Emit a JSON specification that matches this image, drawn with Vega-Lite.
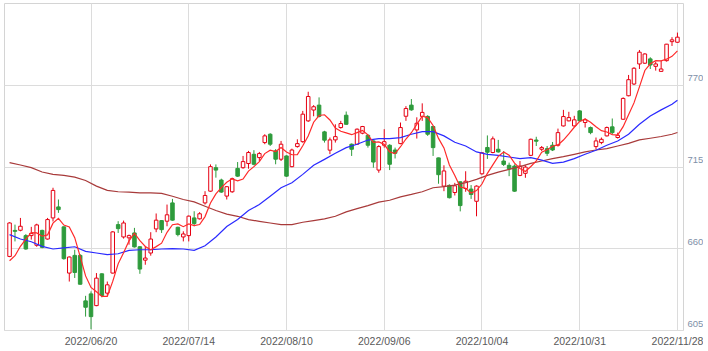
{
"$schema": "https://vega.github.io/schema/vega-lite/v6.json",
"width": 679, "height": 327,
"padding": {"left": 4, "top": 3, "right": 0, "bottom": 0},
"background": "white",
"config": {"view": {"stroke": "#d4d4d4", "strokeWidth": 1}},
"data": {"values": [
{"date":"2022/05/30","open":654.5,"high":677.5,"low":654,"close":677,"ma5":651.6,"ma25":669.2,"ma75":717.6},
{"date":"2022/05/31","open":672,"high":675.9,"low":664.6,"close":671.4,"ma5":655},
{"date":"2022/06/01","open":672.1,"high":680.4,"low":671.4,"close":674.8,"ma5":661.3,"ma25":666.2,"ma75":716},
{"date":"2022/06/02","open":668.5,"high":669.5,"low":659,"close":659.5,"ma5":666.2},
{"date":"2022/06/03","open":668.5,"high":674.4,"low":665.8,"close":670,"ma5":670.5,"ma25":664.4,"ma75":714.2},
{"date":"2022/06/06","open":662,"high":676.5,"low":661,"close":675.7,"ma5":670.3},
{"date":"2022/06/07","open":672,"high":672.5,"low":660,"close":660.6,"ma5":668.1,"ma25":661.3,"ma75":711.3},
{"date":"2022/06/08","open":666.2,"high":680.4,"low":665.8,"close":679.3,"ma5":669},
{"date":"2022/06/09","open":680.4,"high":700.7,"low":678,"close":698.9,"ma5":676.9,"ma25":659.5,"ma75":709.7},
{"date":"2022/06/10","open":687.8,"high":692.8,"low":683.8,"close":686,"ma5":680.1},
{"date":"2022/06/13","open":674.4,"high":674.8,"low":652.3,"close":653,"ma5":675.6,"ma25":660.2,"ma75":709},
{"date":"2022/06/14","open":643.3,"high":654.5,"low":637.6,"close":654.1,"ma5":674.3},
{"date":"2022/06/15","open":655.2,"high":659,"low":640,"close":643.7,"ma5":667.1,"ma25":661,"ma75":707.9},
{"date":"2022/06/16","open":655.2,"high":656,"low":635.5,"close":635.8,"ma5":654.5},
{"date":"2022/06/17","open":624.6,"high":628,"low":614,"close":620.3,"ma5":641.4,"ma25":657.9,"ma75":705.6},
{"date":"2022/06/20","open":629.3,"high":631,"low":605.5,"close":614,"ma5":633.6},
{"date":"2022/06/21","open":621.4,"high":643.3,"low":621,"close":639.9,"ma5":630.7,"ma25":656.8,"ma75":701.8},
{"date":"2022/06/22","open":642.8,"high":643.2,"low":627,"close":628.2,"ma5":627.6},
{"date":"2022/06/23","open":629.8,"high":637.6,"low":628,"close":635.4,"ma5":627.6,"ma25":655.7,"ma75":698.9},
{"date":"2022/06/24","open":643.3,"high":671.5,"low":643,"close":671,"ma5":637.7},
{"date":"2022/06/27","open":675.9,"high":678.2,"low":670.3,"close":673.2,"ma5":649.5,"ma25":656.3,"ma75":698},
{"date":"2022/06/28","open":667.6,"high":678.6,"low":666.5,"close":677,"ma5":657},
{"date":"2022/06/29","open":667,"high":669.2,"low":662.4,"close":668.5,"ma5":665,"ma25":658.6,"ma75":697.8},
{"date":"2022/06/30","open":670.3,"high":673.7,"low":660.5,"close":660.9,"ma5":670.1},
{"date":"2022/07/01","open":661,"high":661.5,"low":642.8,"close":646,"ma5":665.1,"ma25":659,"ma75":697.3},
{"date":"2022/07/04","open":652,"high":661.3,"low":648.9,"close":653.4,"ma5":661.2},
{"date":"2022/07/05","open":656.8,"high":670.8,"low":655,"close":666.2,"ma5":659,"ma25":659,"ma75":697.3},
{"date":"2022/07/06","open":673,"high":683.4,"low":670.8,"close":678.9,"ma5":661.1},
{"date":"2022/07/07","open":678.6,"high":679,"low":670.3,"close":672.5,"ma5":663.4,"ma25":659.5,"ma75":696.9},
{"date":"2022/07/08","open":678.2,"high":689.4,"low":674.8,"close":682.5,"ma5":670.7},
{"date":"2022/07/11","open":690.5,"high":693.2,"low":678.5,"close":678.9,"ma5":675.8,"ma25":659.7,"ma75":695},
{"date":"2022/07/12","open":674.1,"high":674.5,"low":668,"close":669.2,"ma5":676.4},
{"date":"2022/07/13","open":667.6,"high":671.4,"low":664.6,"close":669.6,"ma5":674.5,"ma25":659.5,"ma75":692.8},
{"date":"2022/07/14","open":668.5,"high":682,"low":664.6,"close":681.6,"ma5":676.4},
{"date":"2022/07/15","open":680.4,"high":684.9,"low":674.8,"close":676.6,"ma5":675.2,"ma25":658.6,"ma75":691.2},
{"date":"2022/07/19","open":679.8,"high":684.3,"low":679.3,"close":683.2,"ma5":676},
{"date":"2022/07/20","open":690.5,"high":698.4,"low":689.4,"close":695.5,"ma5":681.3,"ma25":661.7,"ma75":688.3},
{"date":"2022/07/21","open":698.4,"high":716.4,"low":698,"close":714.9,"ma5":690.4},
{"date":"2022/07/22","open":714.2,"high":716.4,"low":707.5,"close":712.6,"ma5":696.6,"ma25":667.6,"ma75":685.4},
{"date":"2022/07/25","open":705.9,"high":706.8,"low":697.3,"close":697.8,"ma5":700.8},
{"date":"2022/07/26","open":695.1,"high":701.8,"low":692.8,"close":701.4,"ma5":704.4,"ma25":674.6,"ma75":683},
{"date":"2022/07/27","open":698,"high":707.5,"low":697.3,"close":706.8,"ma5":706.7},
{"date":"2022/07/28","open":713.7,"high":718,"low":708,"close":708.5,"ma5":705.4,"ma25":679.3,"ma75":681.5},
{"date":"2022/07/29","open":714.2,"high":722.1,"low":713.5,"close":718.3,"ma5":706.6},
{"date":"2022/08/01","open":717,"high":725.5,"low":713.5,"close":724.4,"ma5":711.9,"ma25":685.4,"ma75":679.3},
{"date":"2022/08/02","open":723.2,"high":726,"low":715.8,"close":716.5,"ma5":714.9},
{"date":"2022/08/03","open":721,"high":724.8,"low":718.7,"close":723.7,"ma5":718.3,"ma25":689.4,"ma75":678.1},
{"date":"2022/08/04","open":731.1,"high":736.7,"low":730,"close":735.6,"ma5":723.7},
{"date":"2022/08/05","open":736.7,"high":737.4,"low":728.8,"close":730,"ma5":726,"ma25":695,"ma75":677},
{"date":"2022/08/08","open":725.5,"high":726.7,"low":716.5,"close":719.9,"ma5":725.1},
{"date":"2022/08/09","open":719.9,"high":732.2,"low":718.7,"close":730,"ma5":727.8,"ma25":700.7,"ma75":675.9},
{"date":"2022/08/10","open":722.1,"high":722.5,"low":708.1,"close":708.5,"ma5":724.8},
{"date":"2022/08/12","open":714.9,"high":727,"low":714.5,"close":726.1,"ma5":722.9,"ma25":704.1,"ma75":675.9},
{"date":"2022/08/15","open":728.4,"high":733.3,"low":727.7,"close":730.4,"ma5":723},
{"date":"2022/08/16","open":731.7,"high":752.4,"low":731,"close":750.2,"ma5":729,"ma25":709.7,"ma75":677.5},
{"date":"2022/08/17","open":745.7,"high":765.3,"low":745,"close":762.1,"ma5":735.5},
{"date":"2022/08/18","open":753,"high":756.3,"low":748.8,"close":755.2,"ma5":744.8,"ma25":715.8,"ma75":678.6},
{"date":"2022/08/19","open":756.3,"high":761.5,"low":748,"close":748.7,"ma5":749.3},
{"date":"2022/08/22","open":738.3,"high":739,"low":731.1,"close":732.7,"ma5":749.8,"ma25":719.8,"ma75":679.8},
{"date":"2022/08/23","open":726,"high":734.5,"low":723.3,"close":732.9,"ma5":746.3},
{"date":"2022/08/24","open":732.9,"high":743.4,"low":731.1,"close":735.1,"ma5":740.9,"ma25":723.9,"ma75":681.5},
{"date":"2022/08/25","open":741.2,"high":745.7,"low":740.5,"close":743.9,"ma5":738.7},
{"date":"2022/08/26","open":749.5,"high":752,"low":743,"close":743.4,"ma5":737.6,"ma25":727.7,"ma75":684.5},
{"date":"2022/08/29","open":730,"high":730.5,"low":722.1,"close":726.6,"ma5":736.4},
{"date":"2022/08/30","open":730,"high":740.6,"low":729.5,"close":740.1,"ma5":737.8,"ma25":730,"ma75":686.7},
{"date":"2022/08/31","open":737.4,"high":742.3,"low":736.7,"close":741.9,"ma5":739.2},
{"date":"2022/09/01","open":736,"high":736.5,"low":727.7,"close":729.3,"ma5":736.3,"ma25":732.8,"ma75":688.7},
{"date":"2022/09/02","open":732.2,"high":732.5,"low":714.2,"close":718,"ma5":731.2},
{"date":"2022/09/05","open":712.6,"high":729.3,"low":710.8,"close":728.4,"ma5":731.5,"ma25":733.8,"ma75":691},
{"date":"2022/09/06","open":729.3,"high":740.1,"low":727.7,"close":731.7,"ma5":729.9},
{"date":"2022/09/07","open":729.3,"high":730,"low":712.6,"close":716.5,"ma5":724.8,"ma25":733.8,"ma75":692.3},
{"date":"2022/09/08","open":726.1,"high":727.7,"low":720.4,"close":723.9,"ma5":723.7},
{"date":"2022/09/09","open":730.4,"high":744.6,"low":730,"close":741.2,"ma5":728.3,"ma25":734.4,"ma75":694.6},
{"date":"2022/09/12","open":748.8,"high":755.6,"low":745.7,"close":754,"ma5":733.5},
{"date":"2022/09/13","open":756.3,"high":760.4,"low":752.5,"close":753.1,"ma5":737.7,"ma25":736.7,"ma75":696.2},
{"date":"2022/09/14","open":739.6,"high":748.1,"low":733.8,"close":744.1,"ma5":743.3},
{"date":"2022/09/15","open":748.7,"high":757.5,"low":745.7,"close":751.4,"ma5":748.8,"ma25":738.5,"ma75":698},
{"date":"2022/09/16","open":748.7,"high":749.5,"low":735.6,"close":736.7,"ma5":747.9},
{"date":"2022/09/20","open":741.9,"high":742.3,"low":722.1,"close":727.7,"ma5":742.6,"ma25":738.5,"ma75":700.7},
{"date":"2022/09/21","open":720.8,"high":721,"low":703.4,"close":709.5,"ma5":733.9},
{"date":"2022/09/22","open":701.8,"high":715.8,"low":698.4,"close":712,"ma5":727.5,"ma25":735.6,"ma75":701.4},
{"date":"2022/09/26","open":702.3,"high":703,"low":693.5,"close":694,"ma5":716},
{"date":"2022/09/27","open":697.5,"high":704,"low":695.5,"close":702,"ma5":709,"ma25":731.3,"ma75":702.5},
{"date":"2022/09/28","open":704.7,"high":705,"low":684.8,"close":688.7,"ma5":701.2},
{"date":"2022/09/29","open":700.2,"high":711.8,"low":698,"close":705.1,"ma5":700.4,"ma25":728.8,"ma75":704.1},
{"date":"2022/09/30","open":699.8,"high":702.5,"low":693.2,"close":696.2,"ma5":697.2},
{"date":"2022/10/03","open":691.6,"high":702.3,"low":681.5,"close":701.8,"ma5":698.8,"ma25":724.8,"ma75":706.3},
{"date":"2022/10/04","open":710.1,"high":724.7,"low":709.5,"close":724.2,"ma5":703.2},
{"date":"2022/10/05","open":727.8,"high":735.9,"low":720.1,"close":724.6,"ma5":710.4,"ma25":723.2,"ma75":709},
{"date":"2022/10/06","open":724.4,"high":735.2,"low":723.9,"close":733.6,"ma5":716.1},
{"date":"2022/10/07","open":726.6,"high":732.9,"low":724.3,"close":724.8,"ma5":721.8,"ma25":722.5,"ma75":711.2},
{"date":"2022/10/11","open":718.7,"high":725.4,"low":715.3,"close":716.4,"ma5":724.7},
{"date":"2022/10/12","open":715.8,"high":717.6,"low":708.5,"close":713.5,"ma5":722.6,"ma25":721.4,"ma75":713.1},
{"date":"2022/10/13","open":715.3,"high":716.4,"low":698,"close":698.4,"ma5":717.3},
{"date":"2022/10/14","open":709,"high":718.7,"low":708.5,"close":715.3,"ma5":713.7,"ma25":720.3,"ma75":714.9},
{"date":"2022/10/17","open":710.4,"high":715.8,"low":707.4,"close":714.6,"ma5":711.6},
{"date":"2022/10/18","open":722.5,"high":733.8,"low":722,"close":733.3,"ma5":715,"ma25":721,"ma75":717.1},
{"date":"2022/10/19","open":732.8,"high":735,"low":728.8,"close":732,"ma5":718.7},
{"date":"2022/10/20","open":726.6,"high":728.8,"low":725.4,"close":727.7,"ma5":724.6,"ma25":719.3,"ma75":718.7},
{"date":"2022/10/21","open":727,"high":728.8,"low":722.1,"close":723.9,"ma5":726.3},
{"date":"2022/10/24","open":729.3,"high":731.5,"low":725.4,"close":726.1,"ma5":728.6,"ma25":717.1,"ma75":720.3},
{"date":"2022/10/25","open":729.3,"high":740.5,"low":728.4,"close":737.8,"ma5":729.5},
{"date":"2022/10/26","open":742.3,"high":753.1,"low":741.9,"close":748.6,"ma5":732.8,"ma25":718,"ma75":721.6},
{"date":"2022/10/27","open":745.7,"high":751.8,"low":745.4,"close":747.9,"ma5":736.9},
{"date":"2022/10/28","open":742.3,"high":749.1,"low":741.9,"close":746.4,"ma5":741.4,"ma25":720.3,"ma75":723.2},
{"date":"2022/10/31","open":752.4,"high":753,"low":745,"close":745.7,"ma5":745.3},
{"date":"2022/11/01","open":744.6,"high":747.3,"low":741.2,"close":746.4,"ma5":747,"ma25":723.2,"ma75":724.8},
{"date":"2022/11/02","open":741.2,"high":741.9,"low":736.7,"close":737.8,"ma5":744.8},
{"date":"2022/11/04","open":728.4,"high":734.5,"low":726.6,"close":732.2,"ma5":741.7,"ma25":725.9,"ma75":726.1},
{"date":"2022/11/07","open":731.1,"high":734.5,"low":730,"close":733.3,"ma5":739.1},
{"date":"2022/11/08","open":735.6,"high":741.9,"low":735.2,"close":741.2,"ma5":738.2,"ma25":729.3,"ma75":727},
{"date":"2022/11/09","open":741.7,"high":747.3,"low":736.7,"close":737.8,"ma5":736.5},
{"date":"2022/11/10","open":734.5,"high":737.8,"low":733.8,"close":736,"ma5":736.1,"ma25":732.2,"ma75":728.8},
{"date":"2022/11/11","open":746.8,"high":761.5,"low":746.4,"close":760.8,"ma5":741.8},
{"date":"2022/11/14","open":762.6,"high":776.6,"low":762.2,"close":773.4,"ma5":749.8,"ma25":736.7,"ma75":730.6},
{"date":"2022/11/15","open":770.5,"high":781.8,"low":769.8,"close":781.1,"ma5":757.8},
{"date":"2022/11/16","open":784,"high":793.4,"low":780.6,"close":791.9,"ma5":768.6,"ma25":743.4,"ma75":732.9},
{"date":"2022/11/17","open":784.5,"high":791.2,"low":784,"close":790.7,"ma5":779.6},
{"date":"2022/11/18","open":787.4,"high":788.5,"low":780.6,"close":783.3,"ma5":784.1,"ma25":749,"ma75":734},
{"date":"2022/11/21","open":782.4,"high":785.6,"low":779.5,"close":784,"ma5":786.2},
{"date":"2022/11/22","open":779,"high":786.3,"low":778.8,"close":780.6,"ma5":786.1,"ma25":753.1,"ma75":735.2},
{"date":"2022/11/24","open":786.2,"high":797.5,"low":785.6,"close":797.3,"ma5":787.2},
{"date":"2022/11/25","open":799,"high":802,"low":796.1,"close":800.2,"ma5":789.1,"ma25":756.9,"ma75":736.7},
{"date":"2022/11/28","open":798.6,"high":805.1,"low":798.2,"close":802,"ma5":792.8,"ma25":759.6,"ma75":737.9}
]},
"encoding": {
  "x": {"field": "date", "type": "ordinal", "sort": null,
    "scale": {"paddingInner": 0.35, "paddingOuter": 0.7},
    "axis": {"title": null, "values": ["2022/06/20","2022/07/14","2022/08/10","2022/09/06","2022/10/04","2022/10/31","2022/11/28"],
      "labelAngle": 0, "grid": true, "gridColor": "#dcdcdc", "gridWidth": 1, "bandPosition": 0.5,
      "ticks": false, "tickSize": 0, "domain": false, "labelPadding": 6,
      "labelFont": "Liberation Sans", "labelFontSize": 10.5, "labelColor": "#5a5a5a", "labelOverlap": false, "labelFlush": false}}
},
"layer": [
  {"mark": {"type": "rule", "strokeWidth": 1},
   "encoding": {
     "y": {"field": "low", "type": "quantitative",
       "scale": {"domain": [605, 825], "nice": false, "zero": false},
       "axis": {"title": null, "orient": "right", "values": [605, 660, 715, 770], "grid": true, "gridColor": "#dcdcdc", "gridWidth": 1,
         "ticks": false, "tickSize": 0, "domain": false, "labelPadding": 4, "labelBaseline": "alphabetic", "labelOffset": -4,
         "labelFont": "Liberation Sans", "labelFontSize": 9.5, "labelColor": "#8090a8"}},
     "y2": {"field": "high"},
     "color": {"condition": {"test": "datum.close >= datum.open", "value": "#e60012"}, "value": "#2e9b3c"}
   }},
  {"mark": {"type": "bar", "strokeWidth": 1},
   "encoding": {
     "y": {"field": "open", "type": "quantitative"},
     "y2": {"field": "close"},
     "fill": {"condition": {"test": "datum.close >= datum.open", "value": "#ffffff"}, "value": "#2e9b3c"},
     "stroke": {"condition": {"test": "datum.close >= datum.open", "value": "#e60012"}, "value": "#2e9b3c"}
   }},
  {"mark": {"type": "line", "color": "#a83a3a", "strokeWidth": 1.2},
   "transform": [{"filter": "isValid(datum.ma75)"}],
   "encoding": {"y": {"field": "ma75", "type": "quantitative"}}},
  {"mark": {"type": "line", "color": "#2a2aff", "strokeWidth": 1.2},
   "transform": [{"filter": "isValid(datum.ma25)"}],
   "encoding": {"y": {"field": "ma25", "type": "quantitative"}}},
  {"mark": {"type": "line", "color": "#ff2a2a", "strokeWidth": 1.2},
   "encoding": {"y": {"field": "ma5", "type": "quantitative"}}}
]
}
